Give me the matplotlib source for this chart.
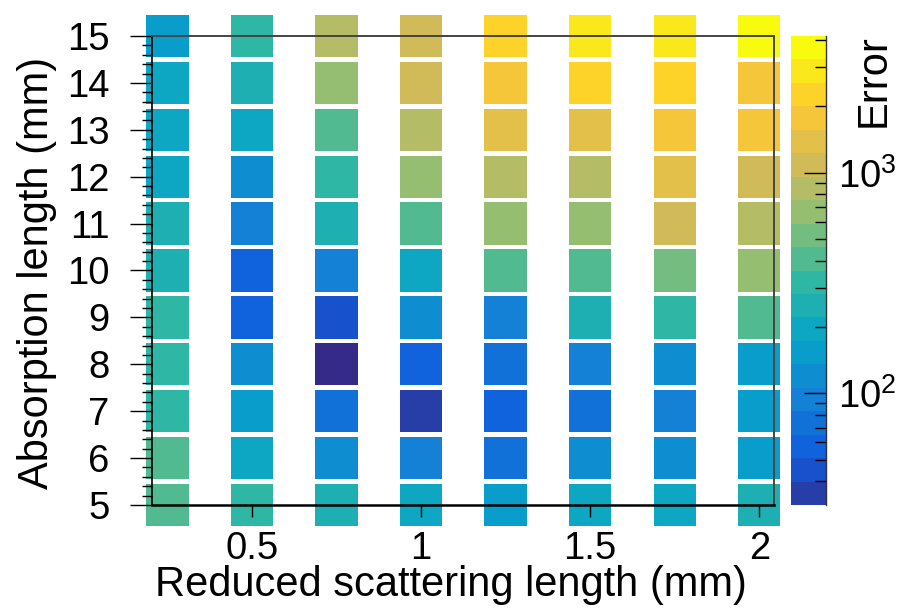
import matplotlib
matplotlib.use("Agg")
import matplotlib.pyplot as plt
import numpy as np
from matplotlib.colors import LinearSegmentedColormap, ListedColormap, LogNorm
from matplotlib.ticker import FixedLocator, MultipleLocator, NullFormatter, LogLocator

plt.rcParams["font.family"] = ["Liberation Sans", "DejaVu Sans"]

# grid of the scan
scattering = [0.25, 0.5, 0.75, 1.0, 1.25, 1.5, 1.75, 2.0]
absorption = [5, 6, 7, 8, 9, 10, 11, 12, 13, 14, 15]

# error per absorption length (rows), across scattering lengths (columns)
error_rows = [
    [410, 320, 250, 195, 155, 195, 195, 250],      # 5 mm
    [400, 195, 118, 92, 73, 120, 120, 155],        # 6 mm
    [320, 150, 72, 35, 57, 73, 94, 153],           # 7 mm
    [315, 120, 28, 57, 74, 94, 120, 152],          # 8 mm
    [305, 58, 45, 120, 94, 250, 320, 410],         # 9 mm
    [250, 57, 92, 195, 410, 405, 520, 665],        # 10 mm
    [240, 95, 245, 390, 665, 665, 1085, 850],      # 11 mm
    [195, 118, 320, 665, 850, 850, 1385, 1090],    # 12 mm
    [190, 195, 410, 850, 1390, 1380, 1770, 1770],  # 13 mm
    [195, 250, 660, 1080, 1770, 2250, 2260, 1775], # 14 mm
    [155, 320, 850, 1090, 2260, 2890, 2900, 3700], # 15 mm
]

z_min, z_max = 31.2, 4166.0
n_levels = 20

# ROOT "bird" palette
stops = [0.0, 0.125, 0.25, 0.375, 0.5, 0.625, 0.75, 0.875, 1.0]
red = [0.2082, 0.0592, 0.0780, 0.0232, 0.1802, 0.5301, 0.8186, 0.9956, 0.9764]
green = [0.1664, 0.3599, 0.5041, 0.6419, 0.7178, 0.7492, 0.7328, 0.7862, 0.9832]
blue = [0.5293, 0.8684, 0.8385, 0.7914, 0.6425, 0.4662, 0.3499, 0.1968, 0.0539]
bird = LinearSegmentedColormap.from_list("bird", list(zip(stops, zip(red, green, blue))), N=255)

# one colour per contour level, picked the way ROOT does it
level_pos = [int(0.01 + (i + 0.99) * 255 / n_levels) / 254 for i in range(n_levels)]
cmap = ListedColormap([bird(p) for p in level_pos])
cmap.set_under(bird(0.0))
norm = LogNorm(vmin=z_min, vmax=z_max)

fig = plt.figure(figsize=(9.12, 6.14), dpi=100)
ax = fig.add_axes([152 / 912, 109 / 614, 622 / 912, 469 / 614])
cax = fig.add_axes([791 / 912, 109 / 614, 35 / 912, 469 / 614])

for y, row in zip(absorption, error_rows):
    ax.bar(scattering, 0.9, width=0.125, bottom=y - 0.45,
           color=cmap(norm(np.array(row, dtype=float))),
           edgecolor="none", clip_on=False, zorder=1)

ax.set_xlim(0.2045, 2.0435)
ax.set_ylim(5, 15)

ax.xaxis.set_major_locator(FixedLocator([0.5, 1.0, 1.5, 2.0]))
ax.set_xticklabels(["0.5", "1", "1.5", "2"])
ax.yaxis.set_major_locator(MultipleLocator(1))
ax.yaxis.set_minor_locator(MultipleLocator(0.2))

ax.tick_params(axis="x", which="major", direction="out", length=8.5, width=1.0,
               pad=10.5, labelsize=27.5, top=False)
ax.tick_params(axis="x", which="minor", bottom=False, top=False)
ax.tick_params(axis="y", which="major", direction="out", length=15.5, width=1.0,
               pad=15, labelsize=27.5, right=False)
ax.tick_params(axis="y", which="minor", direction="out", length=7, width=1.0, right=False)

for side in ("top", "right"):
    ax.spines[side].set_color("#444444")
    ax.spines[side].set_linewidth(1.4)
ax.spines["left"].set_linewidth(1.2)
ax.spines["bottom"].set_linewidth(1.8)

ax.set_xlabel("Reduced scattering length (mm)", fontsize=30)
ax.xaxis.set_label_coords(0.481, -0.128)
ax.set_ylabel("Absorption length (mm)", fontsize=30)
ax.yaxis.set_label_coords(-0.153, 0.495)

# colour scale
sm = plt.cm.ScalarMappable(norm=norm, cmap=cmap)
cbar = fig.colorbar(sm, cax=cax)
cbar.outline.set_visible(False)
cax.plot([1, 1], [0, 1], transform=cax.transAxes, color="#333333", lw=1.0, clip_on=False)
cax.yaxis.set_major_locator(LogLocator(base=10))
cax.yaxis.set_minor_locator(LogLocator(base=10, subs=np.arange(2, 10)))
cax.yaxis.set_minor_formatter(NullFormatter())
cax.tick_params(which="major", direction="in", length=16, width=1.0, pad=9,
                labelsize=27.5, right=True, left=False)
cax.tick_params(which="minor", direction="in", length=8, width=1.0, right=True, left=False)

fig.text(874 / 912, 1 - 34 / 614, "Error", rotation=90, ha="center", va="top", fontsize=30)

fig.savefig("out.png", dpi=100)
